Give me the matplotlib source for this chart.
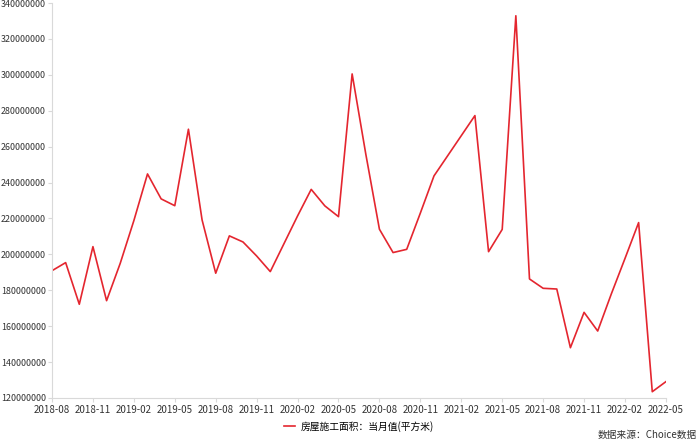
import matplotlib.pyplot as plt
import pandas as pd

plt.rcParams['font.family'] = ['Noto Sans CJK SC', 'DejaVu Sans']

months = pd.period_range("2018-08", "2022-05", freq="M").strftime("%Y-%m").tolist()
# 房屋施工面积：当月值(平方米), in millions
values = [
    190.9, 195.4, 172.2, 204.3, 174.2, 195.0, 218.8, 244.8, 230.9, 227.1,
    269.7, 219.2, 189.5, 210.3, 206.9, 199.1, 190.4, 205.9, 221.4, 236.2,
    227.0, 221.0, 300.5, 255.9, 214.0, 201.0, 202.8, 223.0, 243.7, 254.9,
    266.1, 277.3, 201.5, 213.9, 332.9, 186.3, 181.1, 180.7, 148.0, 167.7,
    157.3, 178.0, 197.7, 217.7, 123.5, 129.1,
]
values = [v * 1e6 for v in values]
x = list(range(len(months)))

fig = plt.figure(figsize=(7, 4.43), dpi=100)
ax = fig.add_axes([0.0743, 0.1016, 0.8770, 0.8916])

ax.plot(x, values, color='#e4262f', lw=1.2, label='房屋施工面积：当月值(平方米)')

ax.set_xlim(0, len(months) - 1)
ax.set_ylim(120e6, 340e6)
ax.set_yticks(range(120000000, 340000001, 20000000))
ax.set_yticklabels([str(v) for v in range(120000000, 340000001, 20000000)])
ax.set_xticks(x[::3])
ax.set_xticklabels(months[::3])

for s in ['top', 'right']:
    ax.spines[s].set_visible(False)
for s in ['left', 'bottom']:
    ax.spines[s].set_color('#d9d9d9')
    ax.spines[s].set_linewidth(0.8)
ax.tick_params(colors='#d9d9d9', labelcolor='#333333', labelsize=7, length=3, width=0.8)
ax.tick_params(axis='y', labelsize=6.4, pad=1.5)
ax.tick_params(axis='x', pad=2)

ax.legend(loc='upper center', bbox_to_anchor=(0.5, -0.035), frameon=False,
          fontsize=7, handlelength=1.2, handletextpad=0.6)
fig.text(0.996, 0.008, '数据来源：Choice数据', ha='right', va='bottom',
         fontsize=7, color='#333333')

fig.savefig('out.png', dpi=100)
